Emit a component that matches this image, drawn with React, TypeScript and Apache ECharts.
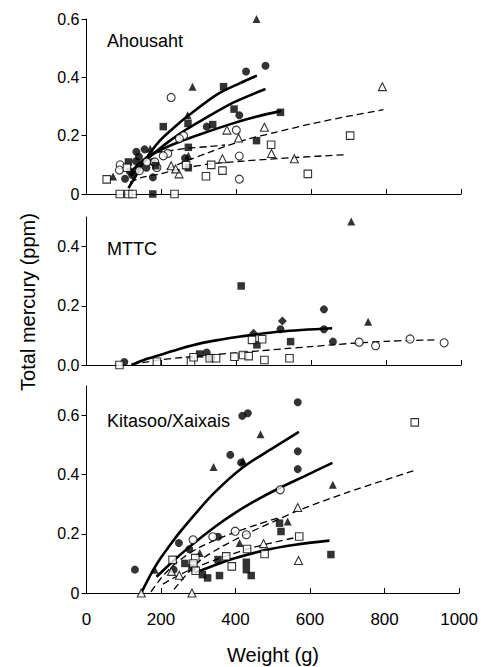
import React, { useEffect, useRef } from "react";
import * as echarts from "echarts";

// ---------- shared axis info ----------
const panelNames = ["Ahousaht", "MTTC", "Kitasoo/Xaixais"];
const panelYMax = [0.6, 0.5, 0.7];
const xTitle = "Weight (g)";
const yTitle = "Total mercury (ppm)";

// ---------- Ahousaht ----------
const ahFilledCircle = [[103,0.052],[115,0.078],[122,0.065],[132,0.112],[133,0.145],[140,0.128],[155,0.153],[160,0.09],[177,0.057],[176,0.11],[263,0.123],[321,0.231],[408,0.27],[426,0.42],[478,0.44]];
const ahOpenCircle = [[226,0.331],[259,0.2],[248,0.19],[217,0.139],[205,0.131],[90,0.1],[88,0.082],[141,0.08],[161,0.11],[188,0.091],[182,0.11],[400,0.219],[408,0.13],[408,0.051]];
const ahFilledTri = [[454,0.6],[283,0.368],[270,0.27],[272,0.131],[71,0.06],[170,0.155]];
const ahOpenTri = [[790,0.368],[375,0.219],[475,0.229],[406,0.192],[494,0.139],[363,0.121],[555,0.121],[226,0.097],[247,0.069],[238,0.086]];
const ahFilledSq = [[366,0.368],[394,0.291],[518,0.28],[454,0.183],[205,0.231],[337,0.238],[272,0.16],[272,0.09],[177,0],[112,0.11],[271,0.242],[185,0.097]];
const ahOpenSq = [[54,0.05],[89,0],[112,0],[123,0],[235,0],[108,0.09],[266,0.099],[333,0.1],[363,0.08],[319,0.061],[493,0.169],[591,0.069],[704,0.2]];
const ahSolid1 = [[112,0.02],[140,0.08],[161,0.125],[196,0.183],[240,0.235],[272,0.269],[348,0.341],[410,0.38],[455,0.406]];
const ahSolid2 = [[118,0.06],[150,0.105],[190,0.15],[223,0.183],[260,0.216],[304,0.25],[393,0.314],[478,0.36]];
const ahSolid3 = [[118,0.075],[150,0.115],[196,0.15],[250,0.18],[304,0.205],[393,0.243],[450,0.264],[520,0.285]];
const ahDash1 = [[185,0.143],[220,0.148],[272,0.157],[330,0.163],[370,0.168]];
const ahDash2 = [[215,0.085],[260,0.11],[322,0.14],[370,0.163],[430,0.188],[500,0.21],[598,0.24],[700,0.267],[793,0.289]];
const ahDash3 = [[116,0.04],[143,0.055],[196,0.069],[260,0.088],[330,0.103],[420,0.113],[554,0.125],[696,0.135]];

// ---------- MTTC ----------
const mtFilledCircle = [[101,0.01],[321,0.042],[518,0.121],[634,0.188],[634,0.121],[658,0.079]];
const mtFilledTri = [[707,0.485],[752,0.146]];
const mtFilledSq = [[413,0.267],[455,0.068],[545,0.079],[302,0.037],[333,0.025]];
const mtFilledDiamond = [[523,0.149],[446,0.107]];
const mtOpenSq = [[88,0],[188,0.011],[279,0.011],[286,0.026],[329,0.023],[346,0.023],[395,0.028],[418,0.034],[433,0.03],[442,0.085],[469,0.087],[475,0.017],[542,0.023]];
const mtOpenCircle = [[728,0.077],[772,0.065],[864,0.088],[955,0.075]];
const mtSolid = [[120,0],[160,0.02],[196,0.034],[250,0.055],[304,0.073],[360,0.086],[411,0.096],[518,0.113],[656,0.124]];
const mtDash = [[120,0.002],[196,0.017],[260,0.026],[330,0.034],[400,0.041],[464,0.048],[530,0.055],[598,0.062],[664,0.069],[732,0.075],[800,0.08],[866,0.083],[940,0.085]];

// ---------- Kitasoo/Xaixais ----------
const kxFilledCircle = [[567,0.645],[418,0.599],[433,0.608],[386,0.467],[415,0.441],[567,0.479],[567,0.419],[130,0.079],[248,0.169],[276,0.148],[353,0.19],[234,0.079]];
const kxFilledTri = [[467,0.537],[341,0.426],[661,0.366],[420,0.446],[183,0.079],[304,0.135],[411,0.169],[540,0.242]];
const kxFilledSq = [[656,0.13],[522,0.208],[518,0.236],[264,0.1],[325,0.051],[357,0.059],[311,0.062],[429,0.104],[429,0.079],[442,0.059],[353,0.113],[283,0.085]];
const kxOpenCircle = [[520,0.349],[286,0.18],[339,0.19],[399,0.209],[429,0.197]];
const kxOpenTri = [[567,0.289],[569,0.11],[475,0.167],[283,0],[147,0],[228,0.073],[249,0.06]];
const kxOpenSq = [[881,0.577],[571,0.191],[478,0.132],[431,0.149],[375,0.124],[390,0.09],[231,0.112],[292,0.118],[287,0.1],[293,0.075]];
const kxSolid1 = [[147,0],[165,0.045],[180,0.08],[200,0.12],[220,0.155],[250,0.205],[280,0.25],[340,0.335],[420,0.425],[500,0.49],[570,0.545]];
const kxSolid2 = [[188,0.055],[230,0.105],[266,0.145],[310,0.19],[357,0.235],[400,0.272],[450,0.31],[518,0.355],[590,0.398],[660,0.44]];
const kxSolid3 = [[290,0.068],[357,0.1],[400,0.118],[480,0.145],[560,0.163],[652,0.177]];
const kxDash1 = [[173,0.004],[200,0.05],[230,0.09],[260,0.12],[300,0.152],[357,0.185],[402,0.207],[460,0.232],[520,0.256]];
const kxDash2 = [[235,0.012],[300,0.105],[357,0.152],[430,0.2],[520,0.252],[570,0.28],[700,0.34],[882,0.415]];
const kxDash3 = [[205,0.03],[240,0.055],[290,0.085],[357,0.117],[450,0.155],[570,0.19]];

const FONT = "'Liberation Sans', Arial, sans-serif";

type Kind = "fc" | "oc" | "ft" | "ot" | "fs" | "os" | "fd";
const kindStyle: Record<Kind, { symbol: string; size: number; filled: boolean }> = {
  fc: { symbol: "circle", size: 8, filled: true },
  oc: { symbol: "circle", size: 8, filled: false },
  ft: { symbol: "triangle", size: 8, filled: true },
  ot: { symbol: "triangle", size: 8, filled: false },
  fs: { symbol: "rect", size: 7.5, filled: true },
  os: { symbol: "rect", size: 7.5, filled: false },
  fd: { symbol: "diamond", size: 9, filled: true },
};

function scatter(data: number[][], gi: number, kind: Kind) {
  const k = kindStyle[kind];
  return {
    type: "scatter",
    xAxisIndex: gi,
    yAxisIndex: gi,
    data,
    symbol: k.symbol,
    symbolSize: k.size,
    z: 4,
    itemStyle: k.filled
      ? { color: "#000" }
      : { color: "#fff", borderColor: "#000", borderWidth: 1.1 },
  };
}

function curve(data: number[][], gi: number, dashed: boolean) {
  return {
    type: "line",
    xAxisIndex: gi,
    yAxisIndex: gi,
    data,
    smooth: 0.3,
    showSymbol: false,
    symbol: "none",
    z: 2,
    lineStyle: dashed
      ? { color: "#000", width: 1.3, type: [7, 4] }
      : { color: "#000", width: 2.6 },
  };
}

export default function App() {
  const ref = useRef<HTMLDivElement>(null);
  useEffect(() => {
    document.body.style.margin = "0";
    if (!ref.current) return;
    const chart = echarts.init(ref.current, undefined, { renderer: "svg" });
    const grids = [
      { left: 86.5, right: 20, top: 19, height: 175 },
      { left: 86.5, right: 20, top: 217, height: 148 },
      { left: 86.5, right: 20, top: 386, height: 207 },
    ];
    const xOffsets = [8, 8, 10];
    const xAxis = grids.map((_, i) => ({
      type: "value",
      gridIndex: i,
      min: 0,
      max: 1000,
      interval: 200,
      offset: xOffsets[i],
      axisLine: { show: true, lineStyle: { color: "#000", width: 1 } },
      axisTick: { show: true, inside: true, length: 5, lineStyle: { color: "#000" } },
      splitLine: { show: false },
      axisLabel: {
        show: i === 2,
        color: "#000",
        fontSize: 17,
        fontFamily: FONT,
        margin: 8,
        formatter: (v: number) => String(v),
      },
    }));
    const yAxis = grids.map((_, i) => ({
      type: "value",
      gridIndex: i,
      min: 0,
      max: panelYMax[i],
      interval: 0.2,
      axisLine: { show: true, lineStyle: { color: "#000", width: 1 } },
      axisTick: { show: true, inside: false, length: 5, lineStyle: { color: "#000" } },
      splitLine: { show: false },
      axisLabel: {
        color: "#000",
        fontSize: 16,
        fontFamily: FONT,
        margin: 7,
        showMaxLabel: i === 0,
        formatter: (v: number) => {
          if (v === 0) return i === 1 ? "0.0" : "0";
          return v.toFixed(1);
        },
      },
    }));
    const series: any[] = [
      curve(ahSolid1, 0, false), curve(ahSolid2, 0, false), curve(ahSolid3, 0, false),
      curve(ahDash1, 0, true), curve(ahDash2, 0, true), curve(ahDash3, 0, true),
      scatter(ahFilledCircle, 0, "fc"), scatter(ahOpenCircle, 0, "oc"),
      scatter(ahFilledTri, 0, "ft"), scatter(ahOpenTri, 0, "ot"),
      scatter(ahFilledSq, 0, "fs"), scatter(ahOpenSq, 0, "os"),

      curve(mtSolid, 1, false), curve(mtDash, 1, true),
      scatter(mtFilledCircle, 1, "fc"), scatter(mtFilledTri, 1, "ft"),
      scatter(mtFilledSq, 1, "fs"), scatter(mtFilledDiamond, 1, "fd"),
      scatter(mtOpenSq, 1, "os"), scatter(mtOpenCircle, 1, "oc"),

      curve(kxSolid1, 2, false), curve(kxSolid2, 2, false), curve(kxSolid3, 2, false),
      curve(kxDash1, 2, true), curve(kxDash2, 2, true), curve(kxDash3, 2, true),
      scatter(kxFilledCircle, 2, "fc"), scatter(kxFilledTri, 2, "ft"),
      scatter(kxFilledSq, 2, "fs"), scatter(kxOpenCircle, 2, "oc"),
      scatter(kxOpenTri, 2, "ot"), scatter(kxOpenSq, 2, "os"),
    ];
    const labelY = [42, 250, 422];
    const graphic: any[] = panelNames.map((name, i) => ({
      type: "text",
      left: 107,
      top: labelY[i] - 10,
      style: { text: name, fill: "#000", font: `18px ${FONT}` },
    }));
    graphic.push({
      type: "text",
      x: 273,
      y: 655,
      style: { text: xTitle, fill: "#000", font: `20px ${FONT}`, textAlign: "center", textVerticalAlign: "middle" },
    });
    graphic.push({
      type: "text",
      x: 28,
      y: 302,
      rotation: Math.PI / 2,
      style: { text: yTitle, fill: "#000", font: `20px ${FONT}`, textAlign: "center", textVerticalAlign: "middle" },
    });
    chart.setOption({
      animation: false,
      backgroundColor: "#fff",
      grid: grids,
      xAxis,
      yAxis,
      series,
      graphic,
    });
    return () => chart.dispose();
  }, []);
  return <div ref={ref} style={{ width: 481, height: 667 }} />;
}
